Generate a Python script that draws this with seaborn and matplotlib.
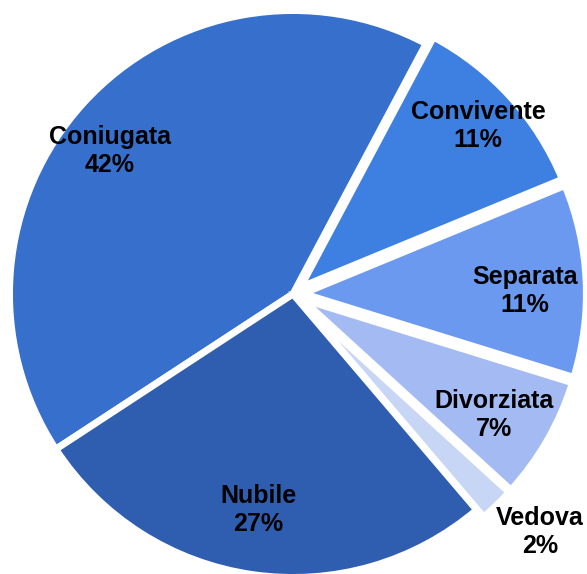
import matplotlib
matplotlib.use("Agg")
import matplotlib.pyplot as plt
import seaborn as sns
import numpy as np

sns.set_style("white")
plt.rcParams["font.family"] = ["Liberation Sans", "DejaVu Sans"]

# Stato civile
categories = ["Coniugata", "Nubile", "Vedova", "Divorziata", "Separata", "Convivente"]
shares = [42, 27, 2, 7, 11, 11]
colors = ["#3670CC", "#2F5EB0", "#C8D6F6", "#A4BAF3", "#6B99F0", "#3E80E2"]
explode = [0, 0, 0.035, 0.035, 0.035, 0.035]

# label placement around the pie centre: radius (in pie radii) and angular nudge (degrees)
label_radius = [0.82, 0.772, 1.21, 0.828, 0.818, 0.881]
label_nudge = [4.4, -1.0, 2.0, -1.2, -1.9, 0.0]

fig = plt.figure(figsize=(5.87, 5.74), dpi=100)
ax = fig.add_axes([0, 0, 1, 1])

wedges, _ = ax.pie(
    shares,
    colors=colors,
    startangle=62,
    counterclock=True,
    explode=explode,
    wedgeprops=dict(edgecolor="white", linewidth=5),
)

for w, name, val, r, nudge in zip(wedges, categories, shares, label_radius, label_nudge):
    mid = np.deg2rad((w.theta1 + w.theta2) / 2 + nudge)
    ax.text(r * np.cos(mid), r * np.sin(mid), f"{name}\n{val}%",
            ha="center", va="center", fontsize=18, fontweight="bold",
            color="black", linespacing=1.22)

R = 283.5
cx, cy = 293, 294
ax.set_xlim(-cx / R, (587 - cx) / R)
ax.set_ylim(-(574 - cy) / R, cy / R)
ax.set_aspect("auto")
ax.axis("off")

fig.savefig("out.png", dpi=100)
